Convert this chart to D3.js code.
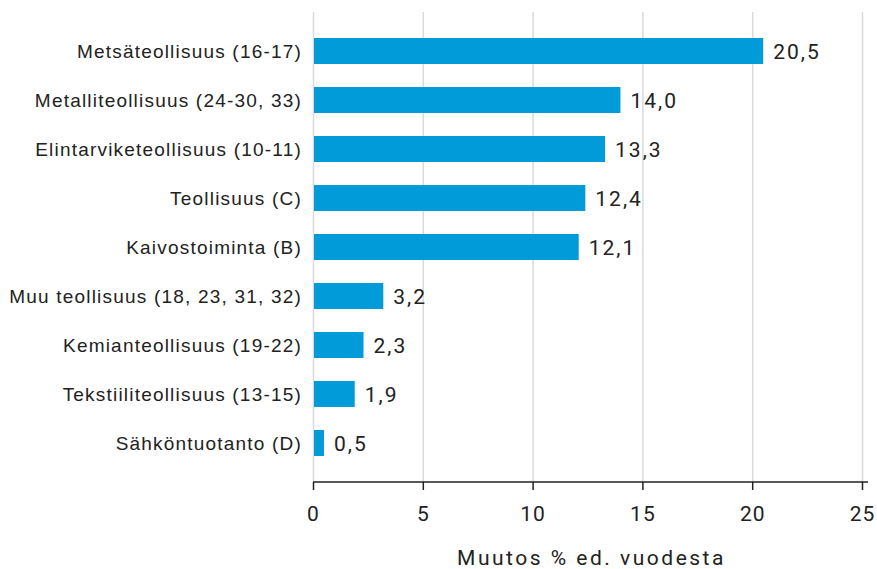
<!doctype html>
<html>
<head>
	<meta charset="utf-8">
	<title>Muutos % ed. vuodesta</title>
	<script src="https://cdnjs.cloudflare.com/ajax/libs/d3/7.8.5/d3.min.js"></script>
	<style>
		body { margin: 0; background: #fff; }
		text { fill: #222; }
	</style>
</head>
<body>
	<script>
		// data
		var categories = [
			'Metsäteollisuus (16-17)',
			'Metalliteollisuus (24-30, 33)',
			'Elintarviketeollisuus (10-11)',
			'Teollisuus (C)',
			'Kaivostoiminta (B)',
			'Muu teollisuus (18, 23, 31, 32)',
			'Kemianteollisuus (19-22)',
			'Tekstiiliteollisuus (13-15)',
			'Sähköntuotanto (D)'
		];
		var values = [20.5, 14.0, 13.3, 12.4, 12.1, 3.2, 2.3, 1.9, 0.5];
		var xTicks = [0, 5, 10, 15, 20, 25];
		var axisTitle = 'Muutos % ed. vuodesta';

		var width = 877, height = 569;
		var plotTop = 12, plotBottom = 482;
		var labelFont = '"Liberation Sans", Arial, sans-serif';
		var numFont = 'Roboto, "Liberation Sans", sans-serif';

		var svg = d3.select('body').append('svg')
			.attr('width', width)
			.attr('height', height);

		var x = d3.scaleLinear()
			.domain([0, 25])
			.range([313, 862]);

		var y = d3.scaleBand()
			.domain(categories)
			.range([26.5, 467.5])
			.paddingInner(0.47)
			.paddingOuter(0.235);

		// vertical grid lines
		svg.append('g')
			.selectAll('line')
			.data(xTicks)
			.enter()
			.append('line')
			.attr('x1', function (d) { return x(d) + 0.5; })
			.attr('x2', function (d) { return x(d) + 0.5; })
			.attr('y1', plotTop)
			.attr('y2', plotBottom)
			.attr('stroke', '#dadada')
			.attr('stroke-width', 1.5);

		// bars
		svg.append('g')
			.selectAll('rect')
			.data(values)
			.enter()
			.append('rect')
			.attr('x', x(0) + 1)
			.attr('y', function (d, i) { return y(categories[i]); })
			.attr('width', function (d) { return x(d) - x(0) - 1; })
			.attr('height', y.bandwidth())
			.attr('fill', '#009bd8');

		// value labels
		svg.append('g')
			.selectAll('text')
			.data(values)
			.enter()
			.append('text')
			.attr('x', function (d) { return x(d) + 10; })
			.attr('y', function (d, i) { return y(categories[i]) + y.bandwidth() / 2; })
			.attr('dy', '0.36em')
			.style('font-family', numFont)
			.style('font-size', '21px')
			.style('letter-spacing', '2px')
			.text(function (d) { return d.toFixed(1).replace('.', ','); });

		// category labels
		svg.append('g')
			.selectAll('text')
			.data(categories)
			.enter()
			.append('text')
			.attr('x', 302)
			.attr('y', function (d) { return y(d) + y.bandwidth() / 2; })
			.attr('dy', '0.36em')
			.attr('text-anchor', 'end')
			.style('font-family', labelFont)
			.style('font-size', '19px')
			.style('letter-spacing', '1.2px')
			.text(function (d) { return d; });

		// x axis
		var axis = svg.append('g')
			.attr('transform', 'translate(0,' + plotBottom + ')')
			.call(d3.axisBottom(x)
				.tickValues(xTicks)
				.tickSize(8)
				.tickPadding(10)
				.tickFormat(d3.format('d')));

		axis.select('.domain')
			.attr('d', 'M' + x(0) + ',0H' + (x(25) + 6))
			.attr('stroke', '#222')
			.attr('stroke-width', 1.5);
		axis.selectAll('.tick line')
			.attr('stroke', '#222')
			.attr('stroke-width', 1.5);
		axis.selectAll('.tick text')
			.attr('dy', '1em')
			.style('font-family', numFont)
			.style('font-size', '21px')
			.style('letter-spacing', '1px')
			.attr('fill', '#222');

		svg.append('text')
			.attr('x', (x(0) + x(25)) / 2 + 4)
			.attr('y', 565)
			.attr('text-anchor', 'middle')
			.style('font-family', numFont)
			.style('font-size', '21px')
			.style('letter-spacing', '2.5px')
			.text(axisTitle);
	</script>
</body>
</html>
